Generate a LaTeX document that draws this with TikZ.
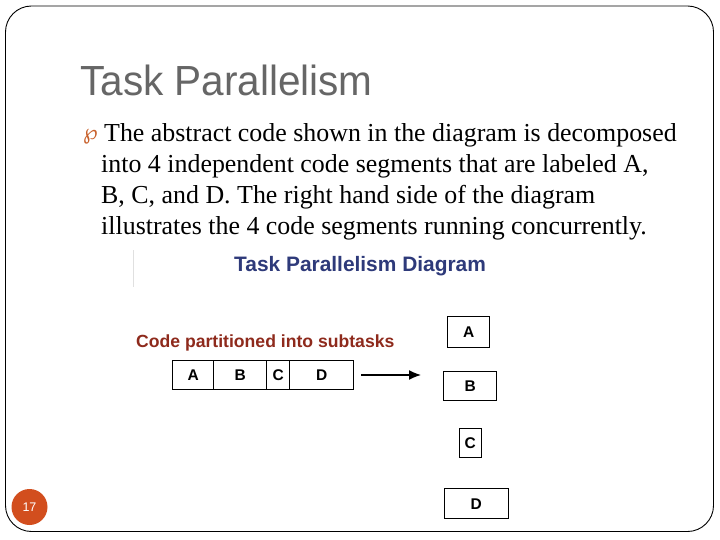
\documentclass[tikz,border=0pt]{standalone}
\usepackage{fontspec}
\usetikzlibrary{arrows.meta}
\setmainfont{Liberation Serif}
\newfontfamily\arialf{Liberation Sans}
\newfontfamily\djv{DejaVu Sans}
\definecolor{titlegray}{HTML}{666666}
\definecolor{navy}{HTML}{2E3A7A}
\definecolor{brickred}{HTML}{8E2A1C}
\definecolor{pageorange}{HTML}{D24E1E}
\definecolor{bulletorange}{HTML}{C8602A}
\tikzset{
  box/.style={draw=black, line width=1.4pt, fill=white},
  boxlabel/.style={font=\arialf\bfseries\fontsize{15.5}{18}\selectfont, inner sep=0pt},
  bodytext/.style={anchor=base west, inner sep=0pt, font=\fontsize{25.9}{31}\selectfont},
}
\begin{document}
\begin{tikzpicture}[x=1pt,y=-1pt]
\useasboundingbox (0,0) rectangle (720,540);
\fill[white] (0,0) rectangle (720,540);
% frame
\draw[black, line width=0.9pt, rounded corners=26pt] (5.5,6) rectangle (713.5,531.5);
% title
\node[anchor=base west, inner sep=0pt, text=titlegray, font=\arialf\fontsize{40.5}{48}\selectfont, yscale=1.04] (title) at (80,96) {Task Parallelism};
% bullet
\node[anchor=base west, inner sep=0pt, text=bulletorange, font=\djv\fontsize{21}{24}\selectfont] (bul) at (83,140) {℘};
% body
\node[bodytext] (l1) at (104,142) {The abstract code shown in the diagram is decomposed};
\node[bodytext] (l2) at (101,173) {into 4 independent code segments that are labeled A,};
\node[bodytext] (l3) at (101,204) {B, C, and D. The right hand side of the diagram};
\node[bodytext] (l4) at (101,235) {illustrates the 4 code segments running concurrently.};
% faint line
\draw[black!12, line width=1.5pt] (133.5,250) -- (133.5,287);
% diagram title
\node[anchor=base west, inner sep=0pt, text=navy, font=\arialf\bfseries\fontsize{20.9}{24}\selectfont] (dtitle) at (234,271) {Task Parallelism Diagram};
\node[anchor=base west, inner sep=0pt, text=brickred, font=\arialf\bfseries\fontsize{17.6}{21}\selectfont] (sub) at (136,347) {Code partitioned into subtasks};
% row boxes
\node[box, minimum width=41pt, minimum height=29pt, anchor=north west] (rA) at (172,360) {};
\node[box, minimum width=53pt, minimum height=29pt, anchor=north west] (rB) at (213,360) {};
\node[box, minimum width=23pt, minimum height=29pt, anchor=north west] (rC) at (266,360) {};
\node[box, minimum width=64pt, minimum height=29pt, anchor=north west] (rD) at (289,360) {};
\node[boxlabel] at (rA) {A};
\node[boxlabel] at (rB) {B};
\node[boxlabel] at (rC) {C};
\node[boxlabel] at (rD) {D};
% arrow
\coordinate (as) at (361,375);
\coordinate (ae) at (421,375);
\draw[line width=1.4pt, -{Latex[length=12pt,width=10pt]}] (as) -- (ae);
% right boxes
\node[box, minimum width=42pt, minimum height=31pt, anchor=north west] (pA) at (447,316) {};
\node[box, minimum width=53pt, minimum height=29pt, anchor=north west] (pB) at (443,371) {};
\node[box, minimum width=22pt, minimum height=29pt, anchor=north west] (pC) at (458.5,428) {};
\node[box, minimum width=64pt, minimum height=30pt, anchor=north west] (pD) at (443.5,488) {};
\node[boxlabel] at (pA) {A};
\node[boxlabel] at (pB) {B};
\node[boxlabel] at (pC) {C};
\node[boxlabel] at (pD) {D};
% page number
\node[circle, fill=pageorange, minimum size=36pt, inner sep=0pt, text=white, font=\arialf\fontsize{12.5}{14}\selectfont] (pg) at (29.5,507) {17};
\end{tikzpicture}
\end{document}
